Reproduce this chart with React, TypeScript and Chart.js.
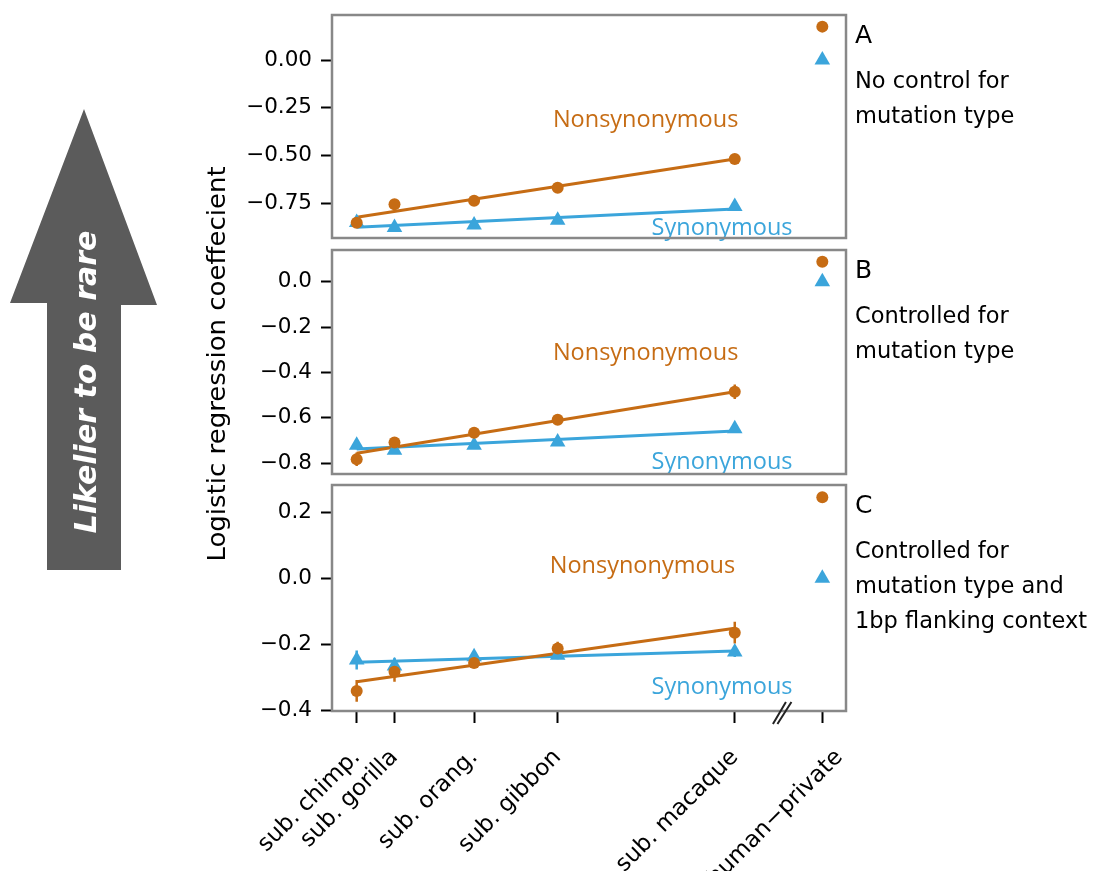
import React, { useEffect, useRef } from "react";
import { Chart, registerables } from "chart.js";

Chart.register(...registerables);

// ---------- data ----------
const categories = ["sub. chimp.", "sub. gorilla", "sub. orang.", "sub. gibbon", "sub. macaque", "human\u2212private"];
const xPositions = [6, 7.9, 11.9, 16.1, 25, 29.4];
const fitX = [6, 25];

// Panel A: no control for mutation type
const nonsynA = [-0.853, -0.757, -0.738, -0.67, -0.519, 0.175];
const nonsynErrA = [0.01, 0.012, 0.008, 0.008, 0.015, 0.005];
const synA = [-0.852, -0.879, -0.865, -0.84, -0.768, 0.0];
const synErrA = [0.008, 0.008, 0.006, 0.006, 0.01, 0.003];
const fitNonsynA = [-0.825, -0.519];
const fitSynA = [-0.877, -0.781];

// Panel B: controlled for mutation type
const nonsynB = [-0.782, -0.708, -0.665, -0.608, -0.485, 0.088];
const nonsynErrB = [0.03, 0.02, 0.012, 0.01, 0.032, 0.005];
const synB = [-0.72, -0.742, -0.72, -0.706, -0.648, 0.0];
const synErrB = [0.018, 0.015, 0.01, 0.01, 0.015, 0.003];
const fitNonsynB = [-0.756, -0.485];
const fitSynB = [-0.737, -0.658];

// Panel C: controlled for mutation type and 1bp flanking context
const nonsynC = [-0.342, -0.284, -0.257, -0.213, -0.165, 0.246];
const nonsynErrC = [0.033, 0.03, 0.015, 0.02, 0.033, 0.005];
const synC = [-0.248, -0.266, -0.238, -0.234, -0.224, 0.0];
const synErrC = [0.029, 0.025, 0.015, 0.012, 0.015, 0.003];
const fitNonsynC = [-0.314, -0.152];
const fitSynC = [-0.255, -0.221];

const yTicksA = [0, -0.25, -0.5, -0.75];
const yTicksB = [0, -0.2, -0.4, -0.6, -0.8];
const yTicksC = [0.2, 0, -0.2, -0.4];
const yRangeA = [-0.9335, 0.236];
const yRangeB = [-0.847, 0.1396];
const yRangeC = [-0.403, 0.2834];
const xRange = [4.759, 30.59];

const seriesNames = ["Nonsynonymous", "Synonymous"];
const panelLetters = ["A", "B", "C"];
const panelNotes = [
  ["No control for", "mutation type"],
  ["Controlled for", "mutation type"],
  ["Controlled for", "mutation type and", "1bp flanking context"],
];
const yTitle = "Logistic regression coeffecient";
const arrowText = "Likelier to be rare";

// ---------- layout / style ----------
const ORANGE = "#c66c14";
const BLUE = "#3ba5db";
const INK = "#000000";
const nonsynLabelAt = [[15.86, -0.35], [15.86, -0.345], [15.7, 0.017]];
const synLabelAt = [[20.82, -0.92], [20.82, -0.825], [20.82, -0.352]];
const breakX = 27.37;
const lastLabelShift = 17; // px, the last category label sits right of its tick
const X_FONT = 23;
const X_PAD = 21;
const X_TICK = 12;

const panels = [
  { axis: "yA", nonsyn: nonsynA, nonsynErr: nonsynErrA, syn: synA, synErr: synErrA, fitN: fitNonsynA, fitS: fitSynA },
  { axis: "yB", nonsyn: nonsynB, nonsynErr: nonsynErrB, syn: synB, synErr: synErrB, fitN: fitNonsynB, fitS: fitSynB },
  { axis: "yC", nonsyn: nonsynC, nonsynErr: nonsynErrC, syn: synC, synErr: synErrC, fitN: fitNonsynC, fitS: fitSynC },
];

const fmt = (v: number, d: number) => Number(v).toFixed(d).replace("-", "\u2212");

function makeY(range: number[], ticks: number[], decimals: number, weight: number, stackWeight: number) {
  return {
    type: "linear",
    position: "left",
    stack: "panels",
    stackWeight,
    weight,
    min: range[0],
    max: range[1],
    afterBuildTicks: (s: any) => {
      s.ticks = ticks.map((v) => ({ value: v }));
    },
    afterFit: (s: any) => {
      s.width = 332;
      s.paddingTop = 0;
      s.paddingBottom = 0;
    },
    ticks: {
      autoSkip: false,
      padding: 9,
      color: INK,
      font: { family: "DejaVu Sans", size: 21.5 },
      callback: (v: any) => fmt(v, decimals),
    },
    grid: { drawOnChartArea: false, drawTicks: true, tickLength: 11, tickWidth: 2, tickColor: INK },
    border: { display: false },
  };
}

function makeSpacer(weight: number, stackWeight: number) {
  return {
    type: "linear",
    position: "left",
    stack: "panels",
    stackWeight,
    weight,
    display: false,
    afterFit: (s: any) => {
      s.paddingTop = 0;
      s.paddingBottom = 0;
    },
  };
}

const decorPlugin = {
  id: "decor",
  beforeDatasetsDraw(chart: any) {
    const ctx = chart.ctx;
    const xs = chart.scales.x;
    ctx.save();
    ctx.lineWidth = 2.5;
    panels.forEach((p) => {
      const ys = chart.scales[p.axis];
      const groups: [number[], number[], string][] = [
        [p.syn, p.synErr, BLUE],
        [p.nonsyn, p.nonsynErr, ORANGE],
      ];
      groups.forEach(([vals, errs, col]) => {
        ctx.strokeStyle = col;
        ctx.beginPath();
        vals.forEach((v, i) => {
          const x = xs.getPixelForValue(xPositions[i]);
          ctx.moveTo(x, ys.getPixelForValue(v + errs[i]));
          ctx.lineTo(x, ys.getPixelForValue(v - errs[i]));
        });
        ctx.stroke();
      });
    });
    ctx.restore();
  },
  afterDraw(chart: any) {
    const { ctx, chartArea } = chart;
    const xs = chart.scales.x;
    ctx.save();
    panels.forEach((p, k) => {
      const ys = chart.scales[p.axis];
      // series labels
      ctx.font = '23.5px "Open Sans"';
      ctx.textAlign = "left";
      ctx.textBaseline = "alphabetic";
      ctx.fillStyle = ORANGE;
      ctx.fillText(seriesNames[0], xs.getPixelForValue(nonsynLabelAt[k][0]), ys.getPixelForValue(nonsynLabelAt[k][1]));
      ctx.fillStyle = BLUE;
      ctx.fillText(seriesNames[1], xs.getPixelForValue(synLabelAt[k][0]), ys.getPixelForValue(synLabelAt[k][1]));
      // panel box
      ctx.strokeStyle = "#888888";
      ctx.lineWidth = 2.5;
      ctx.strokeRect(chartArea.left, ys.top, chartArea.right - chartArea.left, ys.bottom - ys.top);
      // letter and notes
      const tx = chartArea.right + 9;
      ctx.fillStyle = INK;
      ctx.font = '25px "DejaVu Sans"';
      ctx.fillText(panelLetters[k], tx, ys.top + 28);
      ctx.font = '22.5px "DejaVu Sans"';
      panelNotes[k].forEach((line, j) => ctx.fillText(line, tx, ys.top + 73 + 35 * j));
    });

    // last category label (offset to the right of its tick, as in the figure)
    const li = categories.length - 1;
    const lx = xs.getPixelForValue(xPositions[li]) + lastLabelShift;
    const ly = chartArea.bottom + X_TICK + X_PAD + (X_FONT * 1.2) / 2 * Math.SQRT1_2;
    ctx.save();
    ctx.translate(lx, ly);
    ctx.rotate(-Math.PI / 4);
    ctx.font = `${X_FONT}px "DejaVu Sans"`;
    ctx.fillStyle = INK;
    ctx.textAlign = "right";
    ctx.textBaseline = "middle";
    ctx.fillText(categories[li], 0, 0);
    ctx.restore();

    // axis break marks
    const bx = xs.getPixelForValue(breakX);
    const by = chartArea.bottom;
    ctx.strokeStyle = "#222";
    ctx.lineWidth = 2;
    ctx.beginPath();
    ctx.moveTo(bx - 9, by + 13);
    ctx.lineTo(bx + 4, by - 9);
    ctx.moveTo(bx - 4.5, by + 13);
    ctx.lineTo(bx + 9.5, by - 9);
    ctx.stroke();

    // y title
    ctx.save();
    ctx.translate(225, 364);
    ctx.rotate(-Math.PI / 2);
    ctx.scale(1.04, 1);
    ctx.font = '25px "DejaVu Sans"';
    ctx.textAlign = "center";
    ctx.textBaseline = "alphabetic";
    ctx.fillStyle = INK;
    ctx.fillText(yTitle, 0, 0);
    ctx.restore();

    // arrow
    ctx.fillStyle = "#5b5b5b";
    ctx.beginPath();
    ctx.moveTo(84, 109);
    ctx.lineTo(157, 305);
    ctx.lineTo(121, 305);
    ctx.lineTo(121, 570);
    ctx.lineTo(47, 570);
    ctx.lineTo(47, 303);
    ctx.lineTo(10, 303);
    ctx.closePath();
    ctx.fill();
    ctx.save();
    ctx.translate(96, 382);
    ctx.rotate(-Math.PI / 2);
    ctx.font = 'italic bold 30px "DejaVu Sans"';
    ctx.fillStyle = "#ffffff";
    ctx.textAlign = "center";
    ctx.textBaseline = "alphabetic";
    ctx.fillText(arrowText, 0, 0);
    ctx.restore();

    ctx.restore();
  },
};

export default function App() {
  const ref = useRef<HTMLCanvasElement>(null);
  useEffect(() => {
    const datasets: any[] = [];
    panels.forEach((p) => {
      datasets.push({
        label: seriesNames[0],
        data: xPositions.map((x, i) => ({ x, y: p.nonsyn[i] })),
        yAxisID: p.axis,
        pointStyle: "circle",
        pointRadius: 6,
        pointBorderWidth: 0,
        backgroundColor: ORANGE,
        borderColor: ORANGE,
        showLine: false,
        order: 0,
      });
      datasets.push({
        label: seriesNames[1],
        data: xPositions.map((x, i) => ({ x, y: p.syn[i] })),
        yAxisID: p.axis,
        pointStyle: "triangle",
        pointRadius: 9,
        pointBorderWidth: 0,
        backgroundColor: BLUE,
        borderColor: BLUE,
        showLine: false,
        order: 1,
      });
      datasets.push({
        label: seriesNames[0] + " fit",
        data: fitX.map((x, i) => ({ x, y: p.fitN[i] })),
        yAxisID: p.axis,
        showLine: true,
        pointRadius: 0,
        borderColor: ORANGE,
        borderWidth: 3,
        fill: false,
        order: 2,
      });
      datasets.push({
        label: seriesNames[1] + " fit",
        data: fitX.map((x, i) => ({ x, y: p.fitS[i] })),
        yAxisID: p.axis,
        showLine: true,
        pointRadius: 0,
        borderColor: BLUE,
        borderWidth: 3,
        fill: false,
        order: 3,
      });
    });

    const chart = new Chart(ref.current as HTMLCanvasElement, {
      type: "scatter",
      data: { datasets },
      options: {
        responsive: false,
        animation: false,
        devicePixelRatio: 1,
        events: [],
        layout: { padding: { left: 0, top: 15, right: 248, bottom: 0 } },
        plugins: { legend: { display: false }, tooltip: { enabled: false } },
        scales: {
          x: {
            type: "linear",
            position: "bottom",
            min: xRange[0],
            max: xRange[1],
            afterBuildTicks: (s: any) => {
              s.ticks = xPositions.map((v) => ({ value: v }));
            },
            afterFit: (s: any) => {
              s.height = 160;
              s.paddingLeft = 0;
              s.paddingRight = 0;
            },
            ticks: {
              autoSkip: false,
              minRotation: 45,
              maxRotation: 45,
              padding: X_PAD,
              color: INK,
              font: { family: "DejaVu Sans", size: X_FONT },
              callback: (v: any, i: number) => (i === categories.length - 1 ? "" : categories[i]),
            },
            grid: { drawOnChartArea: false, tickLength: X_TICK, tickWidth: 2, tickColor: INK },
            border: { display: false },
          },
          yA: makeY(yRangeA, yTicksA, 2, 5, 223),
          g1: makeSpacer(4, 12),
          yB: makeY(yRangeB, yTicksB, 1, 3, 224),
          g2: makeSpacer(2, 11),
          yC: makeY(yRangeC, yTicksC, 1, 1, 226),
        } as any,
      },
      plugins: [decorPlugin],
    } as any);
    return () => chart.destroy();
  }, []);

  return (
    <div style={{ position: "absolute", left: 0, top: 0, width: 1094, height: 871, background: "#ffffff" }}>
      <canvas ref={ref} width={1094} height={871} style={{ width: 1094, height: 871, display: "block" }} />
    </div>
  );
}
